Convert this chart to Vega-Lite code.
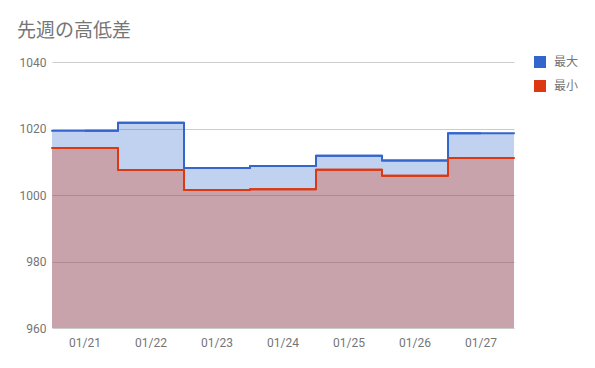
{
  "$schema": "https://vega.github.io/schema/vega-lite/v6.json",
  "width": 462,
  "height": 266,
  "autosize": "none",
  "padding": {"left": 52, "top": 62, "right": 81, "bottom": 40},
  "background": "white",
  "title": {
    "text": "先週の高低差",
    "anchor": "start",
    "frame": "bounds",
    "dx": -2,
    "offset": 15,
    "fontSize": 19,
    "fontWeight": "normal",
    "color": "#757575",
    "font": "Noto Sans CJK JP"
  },
  "data": {
    "values": [
      {"day": "01/21", "series": "最大", "value": 1019.3},
      {"day": "01/22", "series": "最大", "value": 1021.7},
      {"day": "01/23", "series": "最大", "value": 1008.1},
      {"day": "01/24", "series": "最大", "value": 1008.7},
      {"day": "01/25", "series": "最大", "value": 1011.8},
      {"day": "01/26", "series": "最大", "value": 1010.4},
      {"day": "01/27", "series": "最大", "value": 1018.6},
      {"day": "01/21", "series": "最小", "value": 1014.1},
      {"day": "01/22", "series": "最小", "value": 1007.5},
      {"day": "01/23", "series": "最小", "value": 1001.5},
      {"day": "01/24", "series": "最小", "value": 1001.7},
      {"day": "01/25", "series": "最小", "value": 1007.6},
      {"day": "01/26", "series": "最小", "value": 1005.8},
      {"day": "01/27", "series": "最小", "value": 1011.1}
    ]
  },
  "encoding": {
    "x": {
      "field": "day",
      "type": "ordinal",
      "scale": {"paddingInner": 0, "paddingOuter": 0},
      "axis": {
        "title": null,
        "labelAngle": 0,
        "ticks": false,
        "domain": false,
        "grid": false,
        "labelColor": "#757575",
        "labelFontSize": 12,
        "labelFont": "Roboto",
        "labelPadding": 9
      }
    },
    "y": {
      "field": "value",
      "type": "quantitative",
      "stack": null,
      "scale": {"domain": [960, 1040], "zero": false, "nice": false},
      "axis": {
        "title": null,
        "values": [960, 980, 1000, 1020, 1040],
        "format": "d",
        "ticks": false,
        "domain": false,
        "gridColor": "#cccccc",
        "labelColor": "#757575",
        "labelFontSize": 12,
        "labelFont": "Roboto",
        "labelPadding": 6
      }
    },
    "color": {
      "field": "series",
      "type": "nominal",
      "scale": {"domain": ["最大", "最小"], "range": ["#3366cc", "#dc3912"]},
      "legend": {
        "title": null,
        "orient": "none",
        "legendX": 482,
        "legendY": -6,
        "symbolType": "square",
        "symbolSize": 144,
        "symbolOpacity": 1,
        "symbolStrokeWidth": 0,
        "labelFontSize": 12,
        "labelColor": "#757575",
        "labelFont": "Noto Sans CJK JP",
        "rowPadding": 12,
        "labelOffset": 8
      }
    }
  },
  "layer": [
    {
      "mark": {"type": "bar", "opacity": 0.3},
      "encoding": {"y2": {"datum": 960}}
    },
    {
      "mark": {"type": "rule", "strokeWidth": 2, "strokeCap": "round"},
      "encoding": {
        "x": {"field": "day", "type": "ordinal", "bandPosition": 0},
        "x2": {"field": "day", "bandPosition": 1}
      }
    },
    {
      "mark": {"type": "line", "interpolate": "step", "strokeWidth": 2, "strokeJoin": "round"}
    }
  ],
  "config": {"view": {"stroke": null}}
}
